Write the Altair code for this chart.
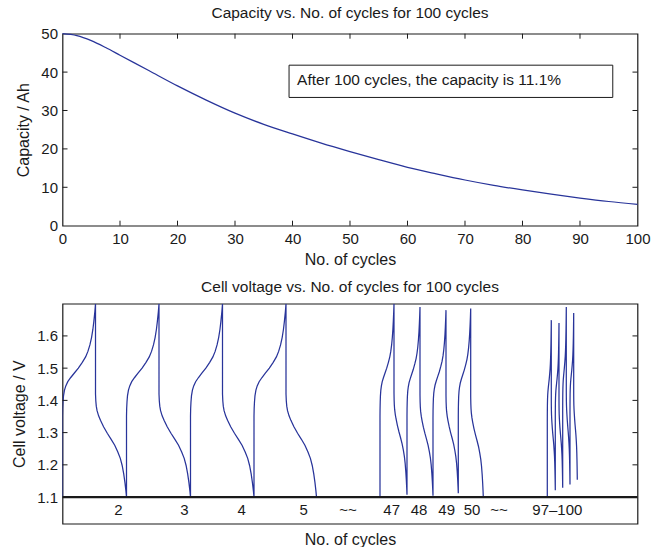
import altair as alt
import pandas as pd

# ---------------- data: capacity fade ----------------
cap_cycle = [0, 2.5, 5, 7.5, 10, 15, 20, 25, 30, 35, 40, 45, 50, 55, 60, 65, 70, 75, 80, 85, 90, 95, 100]
cap_ah = [50.0, 49.5, 48.2, 46.4, 44.4, 40.4, 36.4, 32.7, 29.3, 26.4, 23.9, 21.5, 19.3,
          17.2, 15.2, 13.5, 11.9, 10.5, 9.3, 8.2, 7.2, 6.3, 5.55]
cap_ticks_x = [0, 10, 20, 30, 40, 50, 60, 70, 80, 90, 100]
cap_ticks_y = [0, 10, 20, 30, 40, 50]
note_text = "After 100 cycles, the capacity is 11.1%"

# ---------------- data: cell voltage (schematic, time axis in arbitrary units) ----------------
# one charge and one discharge shape read from the first cycles (fraction of step time, volts)
chg_t = [0, 0, 0.005, 0.015, 0.03, 0.06, 0.10, 0.16, 0.25, 0.36, 0.48, 0.60, 0.70, 0.77, 0.83, 0.88, 0.92, 0.95, 0.98, 1.0]
chg_v = [1.10, 1.35, 1.375, 1.395, 1.414, 1.432, 1.445, 1.458, 1.471, 1.485, 1.50, 1.518, 1.535, 1.552, 1.572, 1.595, 1.62, 1.645, 1.675, 1.70]
dis_t = [0, 0, 0.01, 0.025, 0.05, 0.10, 0.16, 0.26, 0.38, 0.50, 0.62, 0.72, 0.80, 0.86, 0.91, 0.95, 0.98, 1.0]
dis_v = [1.70, 1.42, 1.398, 1.382, 1.368, 1.352, 1.338, 1.318, 1.298, 1.28, 1.261, 1.24, 1.22, 1.198, 1.172, 1.145, 1.12, 1.10]

# per plotted cycle: start time, end of charge, end of discharge, start / peak / end voltage
cyc_t0 = [0, 64, 128, 191.5, 317.5, 344.5, 370.5, 395.8, 484.8, 492.8, 500.2, 507.5]
cyc_tp = [33, 96.5, 160, 223.5, 331.5, 357.5, 383.5, 408.2, 488.8, 496.5, 503.8, 511.2]
cyc_t1 = [64, 128, 191.5, 254, 344.5, 370.5, 395.8, 420.8, 492.8, 500.2, 507.5, 514.8]
cyc_v0 = [1.10, 1.10, 1.10, 1.10, 1.10, 1.107, 1.104, 1.112, 1.10, 1.121, 1.129, 1.139]
cyc_vp = [1.70, 1.70, 1.70, 1.70, 1.70, 1.690, 1.680, 1.685, 1.649, 1.640, 1.690, 1.671]
cyc_v1 = [1.10, 1.10, 1.10, 1.10, 1.107, 1.104, 1.112, 1.10, 1.121, 1.129, 1.139, 1.154]

strip_labels = ["2", "3", "4", "5", "~~", "47", "48", "49", "50", "~~", "97\u2013100"]
strip_pos = [55.8, 121.8, 179.2, 241.2, 285.5, 329.2, 356.5, 384.2, 409.5, 436.5, 494.8]
volt_ticks = [1.1, 1.2, 1.3, 1.4, 1.5, 1.6]

# ---------------- build tables ----------------
cap_df = pd.DataFrame({"cycle": cap_cycle, "cap": cap_ah})

rows = []
idx = 0
for t0, tp, t1, v0, vp, v1 in zip(cyc_t0, cyc_tp, cyc_t1, cyc_v0, cyc_vp, cyc_v1):
    for t, v in zip(chg_t, chg_v):
        rows.append({"i": idx, "time": t0 + t * (tp - t0), "volt": v0 + (v - 1.1) / 0.6 * (vp - v0)})
        idx += 1
    for t, v in zip(dis_t, dis_v):
        rows.append({"i": idx, "time": tp + t * (t1 - tp), "volt": v1 + (v - 1.1) / 0.6 * (vp - v1)})
        idx += 1
volt_df = pd.DataFrame(rows)

# ---------------- style ----------------
FONT = "Liberation Sans"
LINE = "#28349a"
INK = "#1a1a1a"
W = 575
H1 = 192
H2 = 220
TK = 5
V_MIN = 1.1 - 26.6 / 322.0
V_MAX = 1.7

# ---------------- top panel ----------------
xs1 = alt.Scale(domain=[0, 100], nice=False, zero=False)
ys1 = alt.Scale(domain=[0, 50], nice=False, zero=False)
xa1 = alt.Axis(values=cap_ticks_x, title="No. of cycles", labelPadding=6, titlePadding=5,
               labelFlush=False, labelOverlap=False)
ya1 = alt.Axis(values=cap_ticks_y, title="Capacity / Ah", labelPadding=5, titlePadding=9,
               labelFlush=False, labelOverlap=False)

cap_line = alt.Chart(cap_df).mark_line(color=LINE, strokeWidth=1.25, interpolate="monotone").encode(
    x=alt.X("cycle:Q", scale=xs1, axis=xa1),
    y=alt.Y("cap:Q", scale=ys1, axis=ya1),
)

xt_df = pd.DataFrame({"v": cap_ticks_x[1:-1]})
yt_df = pd.DataFrame({"v": cap_ticks_y[1:-1]})
tick_style = dict(color=INK, strokeWidth=1)
t_bot = alt.Chart(xt_df).mark_rule(**tick_style).encode(
    x=alt.X("v:Q", scale=xs1, axis=xa1), y=alt.value(H1), y2=alt.value(H1 - TK))
t_top = alt.Chart(xt_df).mark_rule(**tick_style).encode(
    x=alt.X("v:Q", scale=xs1, axis=xa1), y=alt.value(0), y2=alt.value(TK))
t_lft = alt.Chart(yt_df).mark_rule(**tick_style).encode(
    y=alt.Y("v:Q", scale=ys1, axis=ya1), x=alt.value(0), x2=alt.value(TK))
t_rgt = alt.Chart(yt_df).mark_rule(**tick_style).encode(
    y=alt.Y("v:Q", scale=ys1, axis=ya1), x=alt.value(W - TK), x2=alt.value(W))

note_df = pd.DataFrame({"x0": [39.4], "x1": [95.7], "y0": [33.4], "y1": [41.8], "tx": [40.8], "ty": [38.0], "label": [note_text]})
note_box = alt.Chart(note_df).mark_rect(fill="white", stroke=INK, strokeWidth=1).encode(
    x=alt.X("x0:Q", scale=xs1, axis=xa1), x2="x1:Q", y=alt.Y("y0:Q", scale=ys1, axis=ya1), y2="y1:Q")
note_txt = alt.Chart(note_df).mark_text(align="left", baseline="middle", font=FONT, fontSize=15.5, color=INK).encode(
    x=alt.X("tx:Q", scale=xs1, axis=xa1), y=alt.Y("ty:Q", scale=ys1, axis=ya1), text="label:N")

top = alt.layer(cap_line, t_bot, t_top, t_lft, t_rgt, note_box, note_txt).properties(
    width=W, height=H1,
    title=alt.TitleParams("Capacity vs. No. of cycles for 100 cycles", offset=5),
)

# ---------------- bottom panel ----------------
xs2 = alt.Scale(domain=[0, W], nice=False, zero=False)
ys2 = alt.Scale(domain=[V_MIN, V_MAX], nice=False, zero=False)
xa2 = alt.Axis(labels=False, ticks=False, title="No. of cycles", titlePadding=8)
ya2 = alt.Axis(values=volt_ticks, format=".1f", title="Cell voltage / V", labelPadding=5, titlePadding=9,
               labelFlush=False, labelOverlap=False)

volt_line = alt.Chart(volt_df).mark_line(color=LINE, strokeWidth=1.25, clip=True).encode(
    x=alt.X("time:Q", scale=xs2, axis=xa2),
    y=alt.Y("volt:Q", scale=ys2, axis=ya2),
    order="i:Q",
)

vt_df = pd.DataFrame({"v": volt_ticks[1:]})
base_df = pd.DataFrame({"v": [1.1]})
v_lft = alt.Chart(vt_df).mark_rule(**tick_style).encode(
    y=alt.Y("v:Q", scale=ys2, axis=ya2), x=alt.value(0), x2=alt.value(TK))
v_rgt = alt.Chart(vt_df).mark_rule(**tick_style).encode(
    y=alt.Y("v:Q", scale=ys2, axis=ya2), x=alt.value(W - TK), x2=alt.value(W))
base_rule = alt.Chart(base_df).mark_rule(color=INK, strokeWidth=2.2).encode(
    y=alt.Y("v:Q", scale=ys2, axis=ya2), x=alt.value(0), x2=alt.value(W))

strip_df = pd.DataFrame({"pos": strip_pos, "label": strip_labels, "yv": [(1.1 + V_MIN) / 2] * len(strip_pos)})
strip_txt = alt.Chart(strip_df).mark_text(font=FONT, fontSize=15, color=INK, baseline="middle").encode(
    x=alt.X("pos:Q", scale=xs2, axis=xa2), y=alt.Y("yv:Q", scale=ys2, axis=ya2), text="label:N")

bottom = alt.layer(volt_line, base_rule, v_lft, v_rgt, strip_txt).properties(
    width=W, height=H2,
    title=alt.TitleParams("Cell voltage vs. No. of cycles for 100 cycles", offset=8),
)

chart = alt.vconcat(top, bottom, spacing=10).properties(
    padding={"left": 10.5, "top": 4.7, "right": 4, "bottom": 0},
    background="white",
).configure_view(
    stroke=INK, strokeWidth=1.2
).configure_axis(
    labelFont=FONT, labelFontSize=15, labelColor=INK,
    titleFont=FONT, titleFontSize=16, titleFontWeight="normal", titleColor=INK,
    grid=False, domain=False, ticks=False,
).configure_title(
    font=FONT, fontSize=15.5, fontWeight="normal", color=INK, anchor="middle"
)

chart.save("out.html", embed_options={"renderer": "svg", "actions": False})
